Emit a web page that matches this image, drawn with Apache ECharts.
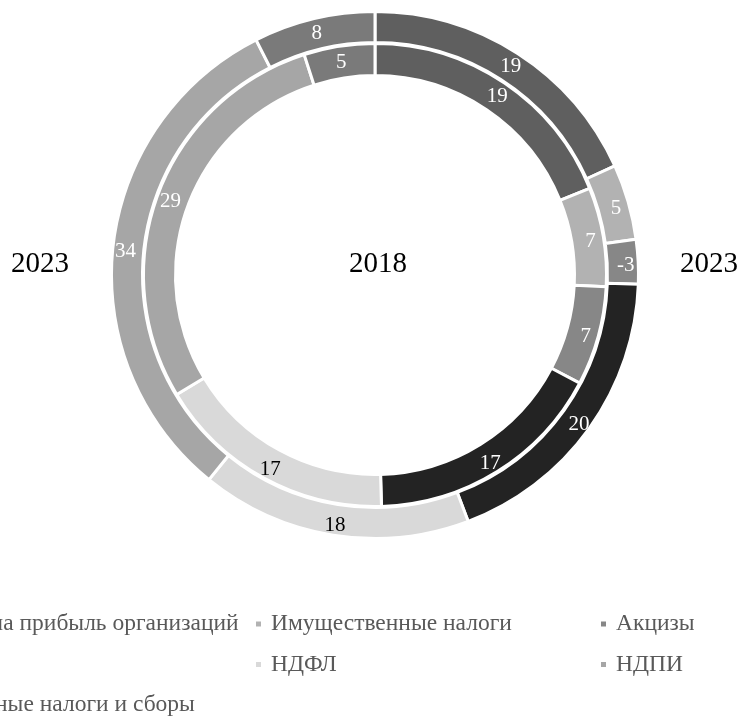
<!DOCTYPE html>
<html>
<head>
<meta charset="utf-8">
<script src="https://cdn.jsdelivr.net/npm/echarts@6/dist/echarts.min.js"></script>
<style>html,body{margin:0;padding:0;background:#fff;}#c{width:740px;height:717px;}</style>
</head>
<body>
<div id="c"></div>
<script>
var categories = ['Налог на прибыль организаций', 'Имущественные налоги', 'Акцизы', 'НДС', 'НДФЛ', 'НДПИ', 'Остальные налоги и сборы'];
var values2018 = [19.1, 7, 7, 17, 17, 29, 5];
var values2023 = [19.3, 4.9, -2.9, 19.8, 17.6, 33.6, 7.9];
var colors = ['#5f5f5f', '#b2b2b2', '#878787', '#232323', '#d9d9d9', '#a6a6a6', '#7a7a7a'];
var labelColors = ['#ffffff', '#ffffff', '#ffffff', '#ffffff', '#000000', '#ffffff', '#ffffff'];
var ringTitles = ['2023', '2018', '2023'];
var legendCols = [[0, 3, 6], [1, 4], [2, 5]];

var FONT = '"Liberation Serif", "Times New Roman", serif';
var LEG_FS = 23.5;
var chart = echarts.init(document.getElementById('c'), null, {renderer: 'canvas'});

function buildData(vals) {
  return vals.map(function (v, i) {
    return {
      name: categories[i],
      value: Math.abs(v),
      raw: v,
      itemStyle: {color: colors[i]},
      label: {color: labelColors[i]}
    };
  });
}

function pieSeries(vals, radius) {
  return {
    type: 'pie',
    center: [375, 275],
    radius: radius,
    startAngle: 90,
    clockwise: true,
    silent: true,
    avoidLabelOverlap: false,
    itemStyle: {borderColor: '#ffffff', borderWidth: 3},
    label: {
      show: true,
      position: 'inside',
      fontFamily: FONT,
      fontSize: 21,
      offset: [0, 3],
      formatter: function (p) { return String(Math.round(p.data.raw)); }
    },
    labelLine: {show: false},
    data: buildData(vals)
  };
}

// first column: its longest text ends at x=238 (the rest is cut off at the left edge)
var cv = document.createElement('canvas').getContext('2d');
cv.font = LEG_FS + 'px ' + FONT;
var firstW = cv.measureText(categories[0]).width;
var ICON = 7, PADL = 4;
var col1Left = Math.round(238 - firstW - ICON - 5 - PADL);

var legendLeft = [col1Left, 254, 599];
var legends = legendCols.map(function (col, k) {
  return {
    orient: 'vertical',
    left: legendLeft[k],
    top: 612,
    padding: 0,
    align: 'left',
    selectedMode: false,
    icon: 'rect',
    itemWidth: ICON,
    itemHeight: ICON,
    itemGap: 16.5,
    textStyle: {fontFamily: FONT, fontSize: LEG_FS, lineHeight: 24, color: '#595959', padding: [0, 0, 0, PADL]},
    data: col.map(function (i) { return categories[i]; })
  };
});

var titleX = [40, 378, 709];
var graphics = ringTitles.map(function (t, i) {
  return {
    type: 'text',
    x: titleX[i],
    y: 264,
    style: {text: t, fontFamily: FONT, fontSize: 29, fill: '#000000', textAlign: 'center', textVerticalAlign: 'middle'}
  };
});

chart.setOption({
  animation: false,
  backgroundColor: '#ffffff',
  legend: legends,
  graphic: graphics,
  series: [
    pieSeries(values2018, [199.5, 231.5]),
    pieSeries(values2023, [232.5, 263.5])
  ]
});
</script>
</body>
</html>
